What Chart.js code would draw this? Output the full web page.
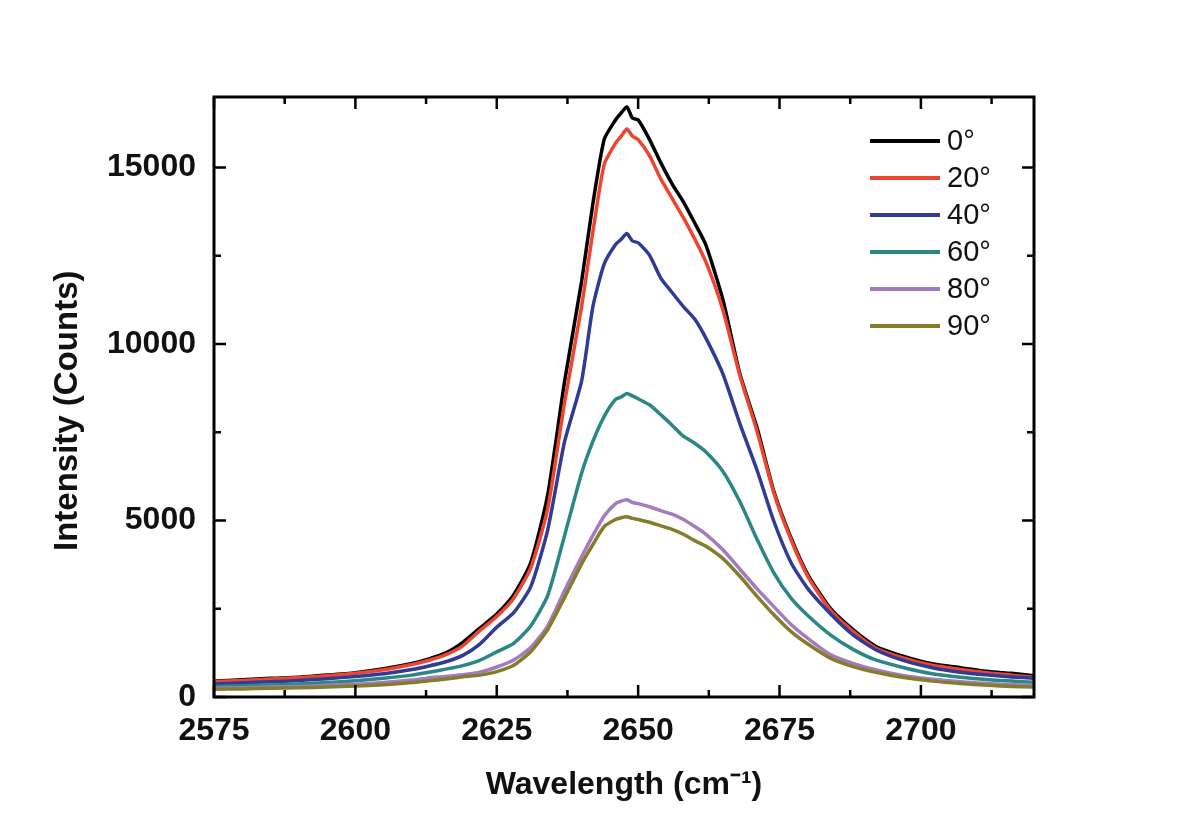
<!DOCTYPE html>
<html>
<head>
<meta charset="utf-8">
<title>Intensity vs Wavelength</title>
<script src="https://cdn.jsdelivr.net/npm/chart.js@4.4.1/dist/chart.umd.min.js"></script>
<style>
  html, body { margin: 0; padding: 0; background: #fff; }
  canvas { display: block; }
</style>
</head>
<body>
<canvas id="spectra" width="1200" height="836"></canvas>
<script>
// wavenumber axis (cm-1)
const wavenumber = [2575,2580,2585,2590,2595,2600,2605,2610,2613,2616,2619,2622,2625,2628,2631,2634,2637,2640,2642,2644,
  2646,2647,2648,2649,2650,2652,2654,2656,2658,2660,2662,2665,2668,2671,2674,2677,2680,2684,2688,2692,2697,2702,2707,2712,2716,2720];

// counts for each polarization angle
const deg0 = [450,490,530,560,620,690,800,950,1080,1250,1550,1950,2350,2900,3800,5720,8950,11770,13980,15800,
  16350,16550,16720,16400,16350,15800,15140,14540,14030,13430,12800,11250,9150,7640,5830,4520,3470,2510,1910,1440,1150,940,830,720,670,600];
const deg20 = [440,470,510,550,600,670,770,920,1040,1200,1450,1880,2280,2800,3650,5330,8350,11060,13180,15090,
  15690,15890,16090,15890,15790,15340,14680,14130,13580,12980,12320,10960,9100,7540,5780,4470,3420,2460,1860,1390,1100,900,780,680,620,560];
const deg40 = [370,400,430,470,520,580,660,780,880,1000,1180,1500,1980,2390,3120,4730,7240,8950,11060,12270,
  12820,12970,13130,12920,12870,12520,11870,11460,11060,10710,10160,9150,7740,6440,4980,3820,3070,2360,1760,1340,1030,830,700,620,570,530];
const deg60 = [300,320,340,370,410,460,530,620,700,790,890,1040,1280,1520,2010,2870,4580,6340,7240,7950,
  8430,8500,8600,8530,8450,8280,8000,7700,7390,7190,6940,6390,5530,4480,3520,2810,2310,1760,1350,1050,830,660,560,490,450,420];
const deg80 = [250,260,280,300,330,360,410,480,540,580,630,700,850,1050,1400,2010,3020,3970,4580,5130,
  5480,5550,5590,5510,5480,5390,5280,5180,5030,4830,4610,4170,3620,3070,2560,2060,1660,1200,950,770,600,500,430,380,350,330];
const deg90 = [220,230,245,260,280,310,350,410,460,510,570,620,720,900,1280,1910,2820,3770,4320,4830,
  5030,5080,5110,5060,5030,4950,4850,4750,4610,4430,4270,3920,3420,2860,2330,1860,1500,1100,860,700,550,450,380,330,300,280];

const seriesLabels = ['0°','20°','40°','60°','80°','90°'];
const seriesValues = [deg0, deg20, deg40, deg60, deg80, deg90];
const seriesColors = ['#000000','#ee4430','#2f3b94','#2a8783','#a47bbd','#857d2c'];

// tick labels
const xTickValues = [2575, 2600, 2625, 2650, 2675, 2700];
const yTickValues = [0, 5000, 10000, 15000];

const FONT = '"Liberation Sans", Arial, sans-serif';

// boxed frame with inward ticks (major + minor midpoints) on all four sides, and the legend
const frameAndLegend = {
  id: 'frameAndLegend',
  afterDraw(chart) {
    const {ctx, chartArea: a, scales: {x, y}} = chart;
    ctx.save();
    ctx.strokeStyle = '#000';
    ctx.lineWidth = 3;
    ctx.strokeRect(a.left, a.top, a.width, a.height);

    ctx.lineWidth = 2.5;
    const xStep = xTickValues[1] - xTickValues[0];
    for (let v = xTickValues[0]; v <= x.max + 1e-9; v += xStep / 2) {
      const px = x.getPixelForValue(v);
      const len = Math.abs((v - xTickValues[0]) % xStep) < 1e-6 ? 12 : 7;
      ctx.beginPath();
      ctx.moveTo(px, a.bottom); ctx.lineTo(px, a.bottom - len);
      ctx.moveTo(px, a.top); ctx.lineTo(px, a.top + len);
      ctx.stroke();
    }
    const yStep = yTickValues[1] - yTickValues[0];
    for (let v = yTickValues[0]; v <= y.max; v += yStep / 2) {
      const py = y.getPixelForValue(v);
      const len = v % yStep === 0 ? 12 : 7;
      ctx.beginPath();
      ctx.moveTo(a.left, py); ctx.lineTo(a.left + len, py);
      ctx.moveTo(a.right, py); ctx.lineTo(a.right - len, py);
      ctx.stroke();
    }

    // legend
    ctx.font = '29px ' + FONT;
    ctx.textBaseline = 'middle';
    ctx.textAlign = 'left';
    chart.data.datasets.forEach((ds, i) => {
      const ly = a.top + 44 + i * 37;
      ctx.strokeStyle = ds.borderColor;
      ctx.lineWidth = 4;
      ctx.beginPath();
      ctx.moveTo(a.right - 164, ly); ctx.lineTo(a.right - 94, ly);
      ctx.stroke();
      ctx.fillStyle = '#111';
      ctx.fillText(ds.label, a.right - 87, ly + 1);
    });
    ctx.restore();
  }
};

const datasets = seriesLabels.map((label, i) => ({
  label: label,
  data: wavenumber.map((w, j) => ({x: w, y: seriesValues[i][j]})),
  borderColor: seriesColors[i],
  borderWidth: 3.5,
  pointRadius: 0,
  tension: 0.2,
  fill: false,
  order: seriesLabels.length - i
}));

new Chart(document.getElementById('spectra'), {
  type: 'line',
  data: { datasets: datasets },
  plugins: [frameAndLegend],
  options: {
    responsive: false,
    animation: false,
    layout: { padding: { top: 97, right: 166, left: 0, bottom: 0 } },
    plugins: {
      legend: { display: false },
      tooltip: { enabled: false }
    },
    scales: {
      x: {
        type: 'linear',
        min: 2575,
        max: 2720,
        grid: { display: false, drawTicks: false },
        border: { display: false },
        ticks: {
          autoSkip: false,
          padding: 15,
          color: '#111',
          font: { family: FONT, size: 32, weight: 'bold' },
          maxRotation: 0,
          callback: v => String(v)
        },
        afterBuildTicks(scale) {
          scale.ticks = xTickValues.map(v => ({value: v}));
        },
        afterFit(scale) { scale.height = 139; },
        title: {
          display: true,
          text: 'Wavelength (cm⁻¹)',
          color: '#111',
          font: { family: FONT, size: 32, weight: 'bold' },
          padding: { top: 0, bottom: 32 }
        }
      },
      y: {
        type: 'linear',
        min: 0,
        max: 17000,
        grid: { display: false, drawTicks: false },
        border: { display: false },
        ticks: {
          autoSkip: false,
          padding: 18,
          color: '#111',
          font: { family: FONT, size: 32, weight: 'bold' },
          callback: v => String(v)
        },
        afterBuildTicks(scale) {
          scale.ticks = yTickValues.map(v => ({value: v}));
        },
        afterFit(scale) { scale.width = 214; },
        title: {
          display: true,
          text: 'Intensity (Counts)   ',
          color: '#111',
          font: { family: FONT, size: 33, weight: 'bold' },
          padding: { top: 48, bottom: 0 }
        }
      }
    }
  }
});
</script>
</body>
</html>
